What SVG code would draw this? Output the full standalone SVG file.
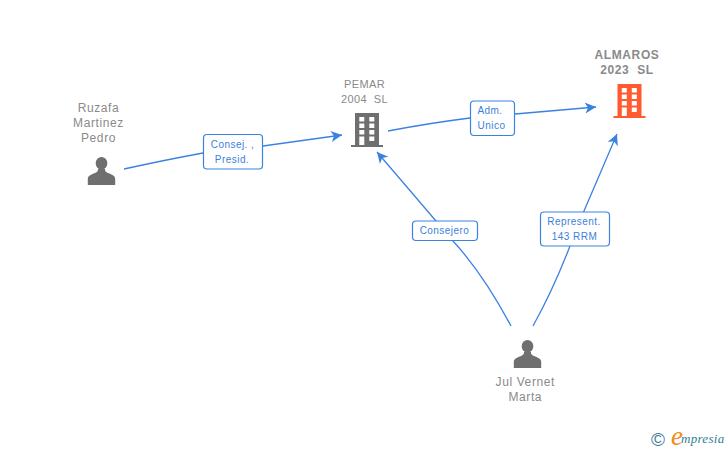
<svg xmlns="http://www.w3.org/2000/svg" width="728" height="450" viewBox="0 0 728 450">
<defs>
<marker id="arr" markerUnits="userSpaceOnUse" markerWidth="13" markerHeight="13" refX="11" refY="6" orient="auto" viewBox="0 0 13 12"><path d="M0 .5L11 6L0 11.500L3 6Z" fill="#3b82e0"/></marker>
<g id="person"><ellipse cx="0" cy="-7.800" rx="5.800" ry="6.300"/><path d="M-13.700 14V8C-13.700 4.500-10 3.500-6.500 2C-3.500 .8-3.500-1-3.500-2H3.500C3.500-1 3.500 .8 6.500 2C10 3.500 13.700 4.500 13.700 8V14Z"/></g>
<g id="bld"><path fill-rule="evenodd" d="M-12 -17H12V15H16V17H-16V15H-12ZM-7.700-13V-8.500H-2.700V-13ZM2.300-13V-8.500H7.300V-13ZM-7.700-6.500V-2H-2.700V-6.500ZM2.300-6.500V-2H7.300V-6.500ZM-7.700 0V4.500H-2.700V0ZM2.300 0V4.500H7.300V0ZM-7.700 6.500V15H-2.700V6.500ZM2.300 6.500V11H7.300V6.500Z"/></g>
</defs>
<style>
text{font-family:"Liberation Sans",Arial,sans-serif;white-space:pre}
.n{font-size:12px;fill:#8a8a8a;text-anchor:middle;letter-spacing:.6px}
.s{font-size:11px;letter-spacing:.35px}
.b{font-weight:bold}
.l{font-size:10px;fill:#3b7fd9;text-anchor:middle;letter-spacing:.45px}
.c{fill:none;stroke:#3b82e0;stroke-width:1.300}
.r{fill:#fff;stroke:#3b82e0;stroke-width:1.200}
</style>
<g id="connectors">
<path class="c" d="M124 169Q165 160 203 153L263 146L342 135" marker-end="url(#arr)"/>
<path class="c" d="M388 131Q430 123 470 118L515 114L596 107" marker-end="url(#arr)"/>
<path class="c" d="M511 326C495 296 475 265 453 241L436 221L377 152" marker-end="url(#arr)"/>
<path class="c" d="M533 326Q553 290 570 246L584 211L617 134" marker-end="url(#arr)"/>
</g>
<g id="label-presid"><rect class="r" x="203.500" y="134.500" width="59" height="34.500" rx="3.500"/><text class="l" x="232.500" y="148">Consej. ,</text><text class="l" x="232" y="163">Presid.</text></g>
<g id="label-adm"><rect class="r" x="470.500" y="101" width="44" height="34.500" rx="3.500"/><text class="l" x="490" y="114">Adm.</text><text class="l" x="491.500" y="129">Unico</text></g>
<g id="label-consejero"><rect class="r" x="412.500" y="221" width="65" height="19.500" rx="3.500"/><text class="l" x="444.500" y="234">Consejero</text></g>
<g id="label-represent"><rect class="r" x="540.500" y="212" width="69" height="34" rx="3.500"/><text class="l" x="574" y="225">Represent.</text><text class="l" x="574.500" y="240">143 RRM</text></g>
<g id="node-ruzafa"><text class="n" x="98.500" y="112">Ruzafa</text><text class="n" x="98.500" y="127">Martinez</text><text class="n" x="98.500" y="142">Pedro</text><use href="#person" x="101.500" y="171" fill="#6f6f6f"/></g>
<g id="node-pemar"><text class="n s" x="364.500" y="88">PEMAR</text><text class="n s" x="364.500" y="103">2004  SL</text><use href="#bld" x="367" y="130" fill="#6f6f6f"/></g>
<g id="node-almaros"><text class="n b" x="627" y="59">ALMAROS</text><text class="n b" x="627" y="74">2023  SL</text><use href="#bld" x="629.500" y="101" fill="#ff5a30"/></g>
<g id="node-jul"><use href="#person" x="527.500" y="354" fill="#6f6f6f"/><text class="n" x="525.300" y="386">Jul Vernet</text><text class="n" x="525.300" y="401">Marta</text></g>
<g id="credit"><text x="658" y="445.500" font-size="19" fill="#3f7f9a" text-anchor="middle">©</text><text x="671" y="445" font-size="27" font-style="italic" fill="#f28a1c" style="font-family:'Liberation Serif',serif">e</text><text x="681" y="443" font-size="13" font-style="italic" fill="#2f7f93" letter-spacing=".3" style="font-family:'Liberation Serif',serif">mpresia</text></g>
</svg>
